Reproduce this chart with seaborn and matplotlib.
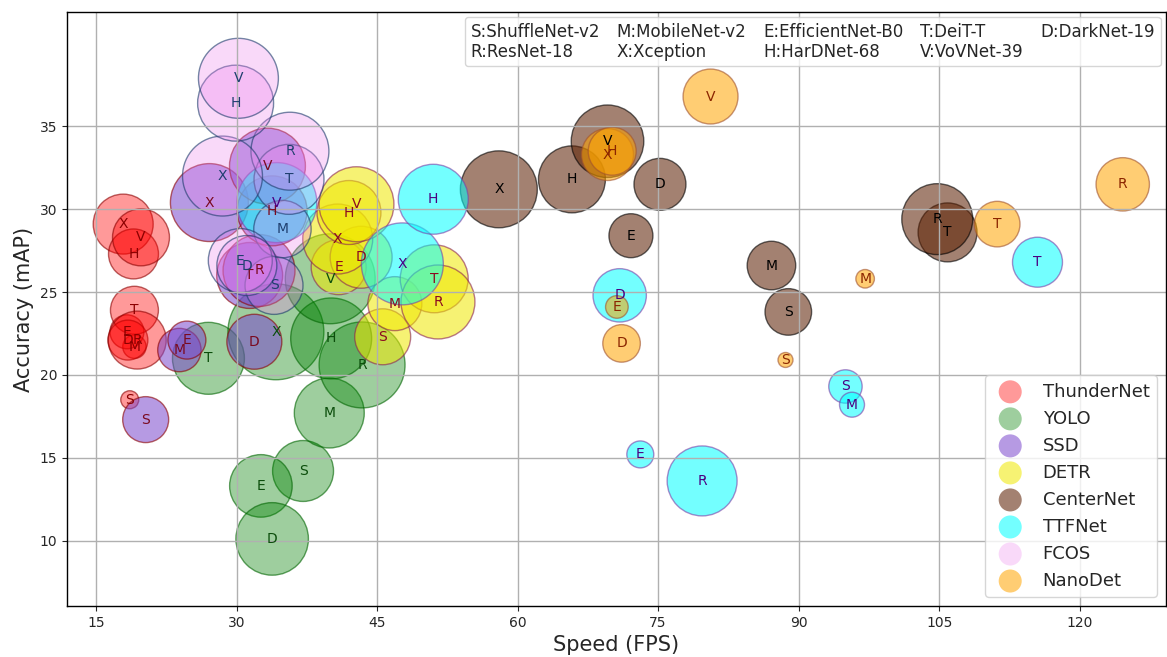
import matplotlib

matplotlib.use("Agg")

import matplotlib.pyplot as plt
import pandas as pd
import seaborn as sns
from matplotlib.colors import to_rgba
from matplotlib.lines import Line2D

sns.set_theme(style="ticks")
plt.rcParams["font.family"] = ["DejaVu Sans"]

FAMILIES = ["ThunderNet", "YOLO", "SSD", "DETR", "CenterNet", "TTFNet", "FCOS", "NanoDet"]
BACKBONES = ["S", "M", "E", "T", "D", "R", "X", "H", "V"]
BACKBONE_NAMES = ["ShuffleNet-v2", "MobileNet-v2", "EfficientNet-B0", "DeiT-T",
                  "DarkNet-19", "ResNet-18", "Xception", "HarDNet-68", "VoVNet-39"]

# per family, backbone order S M E T D R X H V
thundernet_fps = [18.6, 19.1, 18.3, 19.1, 18.4, 19.4, 17.9, 19.0, 19.8]
thundernet_map = [18.5, 21.7, 22.6, 23.9, 22.1, 22.1, 29.1, 27.3, 28.3]
thundernet_bubble = [0.81, 1.37, 2.89, 5.76, 4.0, 8.41, 9.0, 6.25, 8.12]

yolo_fps = [37.1, 39.9, 32.6, 27.0, 33.8, 43.4, 34.2, 40.1, 40.0]
yolo_map = [14.2, 17.7, 13.3, 21.0, 10.1, 20.6, 22.6, 22.2, 25.8]
yolo_bubble = [9.3, 12.25, 9.8, 12.96, 13.18, 18.49, 23.04, 16.4, 20.25]

ssd_fps = [20.3, 23.9, 24.7, 31.4, 31.9, 32.4, 27.1, 33.8, 33.3]
ssd_map = [17.3, 21.5, 22.1, 26.0, 22.0, 26.3, 30.4, 29.9, 32.6]
ssd_bubble = [5.29, 4.71, 3.61, 10.89, 7.56, 12.96, 15.21, 12.25, 14.44]

detr_fps = [45.6, 46.9, 40.9, 51.1, 43.3, 51.5, 40.8, 42.0, 42.8]
detr_map = [22.3, 24.3, 26.5, 25.8, 27.1, 24.4, 28.2, 29.8, 30.3]
detr_bubble = [7.84, 7.29, 7.56, 11.56, 9.61, 13.69, 12.25, 10.24, 14.06]

centernet_fps = [88.9, 87.1, 72.1, 105.9, 75.2, 104.8, 58.0, 65.8, 69.6]
centernet_map = [23.8, 26.6, 28.4, 28.6, 31.5, 29.4, 31.2, 31.8, 34.1]
centernet_bubble = [5.43, 5.9, 4.84, 8.7, 6.76, 12.6, 14.82, 11.22, 13.18]

ttfnet_fps = [95.0, 95.7, 73.1, 115.5, 70.9, 79.7, 47.7, 51.0, 34.3]
ttfnet_map = [19.3, 18.2, 15.2, 26.8, 24.8, 13.6, 26.7, 30.6, 30.4]
ttfnet_bubble = [2.79, 1.56, 1.82, 6.25, 7.13, 12.25, 16.81, 12.25, 16.0]

fcos_fps = [34.0, 34.9, 30.4, 35.6, 31.1, 35.7, 28.5, 29.9, 30.2]
fcos_map = [25.4, 28.8, 26.9, 31.8, 26.6, 33.5, 32.0, 36.4, 37.9]
fcos_bubble = [8.41, 8.24, 10.24, 12.25, 9.0, 15.21, 16.0, 14.44, 16.0]

nanodet_fps = [88.6, 97.1, 70.6, 111.2, 71.1, 124.6, 69.6, 70.1, 80.6]
nanodet_map = [20.9, 25.8, 24.1, 29.1, 21.9, 31.5, 33.3, 33.5, 36.8]
nanodet_bubble = [0.56, 0.86, 1.28, 5.2, 3.53, 7.13, 6.76, 5.76, 7.56]

FPS = [thundernet_fps, yolo_fps, ssd_fps, detr_fps, centernet_fps, ttfnet_fps, fcos_fps, nanodet_fps]
MAP = [thundernet_map, yolo_map, ssd_map, detr_map, centernet_map, ttfnet_map, fcos_map, nanodet_map]
BUBBLE = [thundernet_bubble, yolo_bubble, ssd_bubble, detr_bubble, centernet_bubble,
          ttfnet_bubble, fcos_bubble, nanodet_bubble]

# styling per family
FACE = ["red", "green", "#7B48CC", "#F0E800", "#5E2205", "cyan", "violet", "orange"]
FACE_ALPHA = [0.4, 0.38, 0.55, 0.55, 0.57, 0.55, 0.3, 0.55]
EDGE = ["darkred", "darkgreen", "darkred", "#8B2252", "black", "#7B3FA8", "#1A3A6A", "sienna"]
TEXT = ["darkred", "#0B4D0B", "#7A0A20", "#8B0A20", "black", "#4B0082", "#1F3F6F", "#8B2500"]
AREA_SCALE = 207.0   # marker area (pt^2) per bubble unit

rows = []
for fam, fps, mp, bub in zip(FAMILIES, FPS, MAP, BUBBLE):
    for bb, f, m, b in zip(BACKBONES, fps, mp, bub):
        rows.append({"family": fam, "backbone": bb, "fps": f, "map": m, "bubble": b})
df = pd.DataFrame(rows)

lo, hi = df["bubble"].min(), df["bubble"].max()

fig, ax = plt.subplots(figsize=(11.67, 6.57), dpi=100)
fig.subplots_adjust(left=0.0574, right=0.999, bottom=0.0776, top=0.9817)

for i, fam in enumerate(FAMILIES):
    sub = df[df["family"] == fam]
    sns.scatterplot(
        data=sub, x="fps", y="map", size="bubble",
        sizes=(lo * AREA_SCALE, hi * AREA_SCALE), size_norm=(lo, hi),
        color=to_rgba(FACE[i], FACE_ALPHA[i]),
        edgecolor=to_rgba(EDGE[i], 0.6), linewidth=1.0,
        label=fam, legend=False, ax=ax,
    )
    for _, r in sub.iterrows():
        ax.text(r["fps"], r["map"], r["backbone"], ha="center", va="center",
                fontsize=10, color=TEXT[i])

ax.set_xlim(11.9, 129.2)
ax.set_ylim(6.05, 41.9)
ax.set_xticks(range(15, 121, 15))
ax.set_yticks(range(10, 36, 5))
ax.tick_params(labelsize=10, length=3.5, width=0.8)
ax.set_xlabel("Speed (FPS)", fontsize=15)
ax.set_ylabel("Accuracy (mAP)", fontsize=15)
ax.grid(True, color="#b0b0b0", linewidth=1.0)
ax.set_axisbelow("line")
for sp in ax.spines.values():
    sp.set_color("black")
    sp.set_linewidth(1.0)

leg = ax.legend(loc="lower right", fontsize=13)
for h in leg.legend_handles:
    h.set_sizes([275])
    h.set_edgecolor("none")
ax.add_artist(leg)

# backbone key, column-major so it reads row by row
order = [0, 5, 1, 6, 2, 7, 3, 8, 4]
key_handles = [Line2D([], [], linestyle="none") for _ in order]
key_labels = [f"{BACKBONES[k]}:{BACKBONE_NAMES[k]}" for k in order]
ax.legend(key_handles, key_labels, loc="upper right", ncol=5, fontsize=12,
          handlelength=0, handletextpad=0, columnspacing=1.0,
          labelspacing=0.1, borderpad=0.35, borderaxespad=0.3)

plt.savefig("out.png", dpi=100)
plt.close(fig)
